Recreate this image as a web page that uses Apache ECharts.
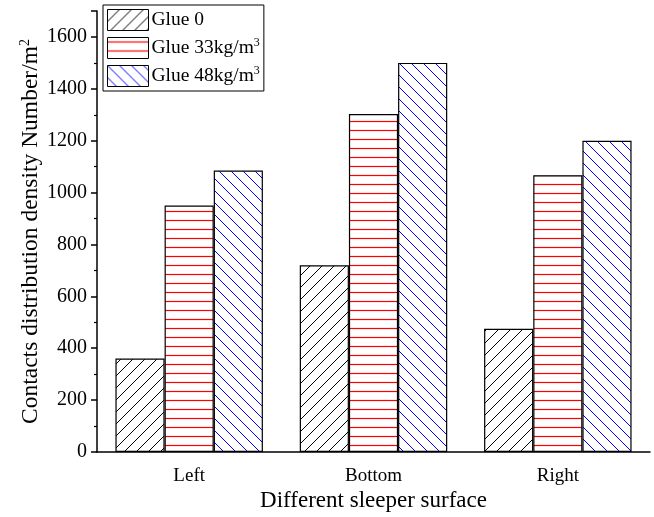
<!DOCTYPE html>
<html>
<head>
<meta charset="utf-8">
<script src="https://cdn.jsdelivr.net/npm/echarts@6/dist/echarts.min.js"></script>
<style>
html,body{margin:0;padding:0;background:#fff;}
#chart{width:654px;height:517px;}
</style>
</head>
<body>
<div id="chart"></div>
<script>
const categories = ['Left', 'Bottom', 'Right'];
const seriesNames = ['Glue 0', 'Glue 33kg/m3', 'Glue 48kg/m3'];
const glue0 = [360, 720, 475];
const glue33 = [950, 1303, 1067];
const glue48 = [1085, 1500, 1200];
const yTicks = [0, 200, 400, 600, 800, 1000, 1200, 1400, 1600];

const FONT = '"Liberation Serif", "Times New Roman", serif';

function hatch(type, color, lw) {
  const c = document.createElement('canvas');
  const ctx = c.getContext('2d');
  if (type === 'h') {
    c.width = 4; c.height = 9;
    ctx.fillStyle = '#fff'; ctx.fillRect(0, 0, 4, 9);
    ctx.strokeStyle = color; ctx.lineWidth = lw;
    ctx.beginPath(); ctx.moveTo(0, 4.5); ctx.lineTo(4, 4.5); ctx.stroke();
    return c;
  }
  const s = 12;
  c.width = s; c.height = s;
  ctx.fillStyle = '#fff'; ctx.fillRect(0, 0, s, s);
  ctx.strokeStyle = color; ctx.lineWidth = lw;
  ctx.beginPath();
  if (type === '/') {
    ctx.moveTo(0, s); ctx.lineTo(s, 0);
    ctx.moveTo(-1, 1); ctx.lineTo(1, -1);
    ctx.moveTo(s - 1, s + 1); ctx.lineTo(s + 1, s - 1);
  } else {
    ctx.moveTo(0, 0); ctx.lineTo(s, s);
    ctx.moveTo(-1, s - 1); ctx.lineTo(1, s + 1);
    ctx.moveTo(s - 1, -1); ctx.lineTo(s + 1, 1);
  }
  ctx.stroke();
  return c;
}

const patterns = [
  { image: hatch('/', '#000', 1), repeat: 'repeat' },
  { image: hatch('h', '#ff0000', 1.2), repeat: 'repeat' },
  { image: hatch('\\', '#0000ff', 1), repeat: 'repeat' }
];
const dataSets = [glue0, glue33, glue48];

const chart = echarts.init(document.getElementById('chart'), null, { renderer: 'canvas' });

const series = seriesNames.map((n, i) => ({
  name: n,
  type: 'bar',
  xAxisIndex: 0,
  data: dataSets[i],
  barGap: '0%',
  barCategoryGap: '20%',
  itemStyle: { color: patterns[i], borderColor: '#000', borderWidth: 1.2 },
  emphasis: { disabled: true }
}));

const supRich = { sup: { fontSize: 12, fontFamily: FONT, color: '#000', padding: [0, 0, 10, 0] } };

chart.setOption({
  animation: false,
  backgroundColor: '#fff',
  grid: { left: 97, right: 4, top: 11, bottom: 60, containLabel: false },
  legend: {
    orient: 'vertical',
    left: 103, top: 5,
    data: seriesNames.map(n => ({ name: n, icon: 'rect' })),
    itemWidth: 41, itemHeight: 21, itemGap: 6,
    padding: [4, 4, 4, 4],
    borderColor: '#000', borderWidth: 1,
    itemStyle: { borderColor: '#000', borderWidth: 1 },
    textStyle: { fontFamily: FONT, fontSize: 19.5, color: '#000', padding: [0, 0, 0, -2], rich: supRich },
    formatter: n => n.endsWith('3') ? n.slice(0, -1) + '{sup|3}' : n,
    selectedMode: false
  },
  xAxis: [{
    type: 'category',
    data: categories,
    name: 'Different sleeper surface',
    nameLocation: 'middle',
    nameGap: 37,
    nameMoveOverlap: false,
    nameTextStyle: { fontFamily: FONT, fontSize: 23, color: '#000' },
    axisLine: { lineStyle: { color: '#000', width: 1.5 } },
    axisTick: { alignWithLabel: true, length: 8, lineStyle: { color: '#000', width: 1.5 } },
    axisLabel: { fontFamily: FONT, fontSize: 19, color: '#000', margin: 15 }
  }, {
    type: 'category',
    data: categories,
    position: 'bottom',
    axisLine: { show: false },
    axisTick: { alignWithLabel: false, length: 4, lineStyle: { color: '#000', width: 1.5 } },
    axisLabel: { show: false }
  }],
  yAxis: {
    type: 'value',
    min: 0, max: 1700, interval: 200,
    name: 'Contacts distribution density Number/m{sup|2}',
    nameLocation: 'middle',
    nameGap: 53,
    nameMoveOverlap: false,
    nameTextStyle: { fontFamily: FONT, fontSize: 23.5, color: '#000', rich: { sup: { fontSize: 14, fontFamily: FONT, color: '#000', padding: [0, 0, 12, 0] } } },
    axisLine: { show: true, lineStyle: { color: '#000', width: 1.5 } },
    axisTick: { show: true, length: 6, lineStyle: { color: '#000', width: 1.5 } },
    minorTick: { show: true, splitNumber: 2, length: 3, lineStyle: { color: '#000', width: 1.2 } },
    splitLine: { show: false },
    axisLabel: {
      fontFamily: FONT, fontSize: 20, color: '#000', margin: 10,
      formatter: v => yTicks.includes(v) ? String(v) : ''
    }
  },
  series: series
});
</script>
</body>
</html>
